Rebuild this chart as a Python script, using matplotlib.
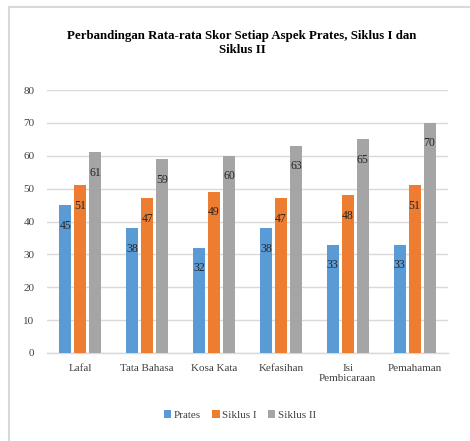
import numpy as np
import matplotlib.pyplot as plt
from matplotlib.patches import Rectangle

categories = ["Lafal", "Tata Bahasa", "Kosa Kata", "Kefasihan", "Isi\nPembicaraan", "Pemahaman"]
prates = [45, 38, 32, 38, 33, 33]
siklus1 = [51, 47, 49, 47, 48, 51]
siklus2 = [61, 59, 60, 63, 65, 70]
series_names = ["Prates", "Siklus I", "Siklus II"]
colors = ["#5B9BD5", "#ED7D31", "#A5A5A5"]

plt.rcParams['font.family'] = ['Liberation Serif', 'DejaVu Serif']

fig = plt.figure(figsize=(4.7, 4.41), dpi=100)
# light frame around the chart
fig.patches.append(Rectangle((9/470, -0.1), 1.2, 1 - 7/441 + 0.1, transform=fig.transFigure,
                             fill=False, edgecolor="#d9d9d9", linewidth=1.5))

ax = fig.add_axes([47/470, 1 - 353/441, 401/470, (353 - 90)/441])
x = np.arange(len(categories))
w = 0.18
step = 0.224
for i, (vals, name, c) in enumerate(zip([prates, siklus1, siklus2], series_names, colors)):
    bars = ax.bar(x + (i - 1) * step, vals, w, color=c, label=name, zorder=3)
    for b, v in zip(bars, vals):
        ax.annotate(str(v), (b.get_x() + b.get_width() / 2, v), xytext=(0, -10.5),
                    textcoords="offset points", ha="center", va="top",
                    fontsize=8.5, color="#262626", zorder=4)

ax.set_xlim(-0.5, len(categories) - 0.5)
ax.set_ylim(0, 80)
ax.set_yticks(range(0, 81, 10))
ax.yaxis.grid(True, color="#d9d9d9", linewidth=1, zorder=0)
for s in ["top", "right", "left"]:
    ax.spines[s].set_visible(False)
ax.spines["bottom"].set_color("#d9d9d9")
ax.spines["bottom"].set_linewidth(1)
ax.tick_params(axis="both", length=0, labelsize=8, colors="#404040")
ax.tick_params(axis="y", pad=9)
ax.tick_params(axis="x", pad=8)
ax.set_xticks(x)
ax.set_xticklabels(categories, linespacing=1.1)

fig.text(0.515, 1 - 43/441, "Perbandingan Rata-rata Skor Setiap Aspek Prates, Siklus I dan\nSiklus II",
         ha="center", va="center", fontsize=9.3, fontweight="bold", linespacing=1.15)

fig.legend(loc="center", bbox_to_anchor=(0.51, 1 - 415/441), ncol=3, frameon=False,
           fontsize=8, handlelength=0.7, handleheight=0.7, handletextpad=0.2,
           columnspacing=1.0, labelcolor="#404040")

fig.savefig("out.png", dpi=100)
